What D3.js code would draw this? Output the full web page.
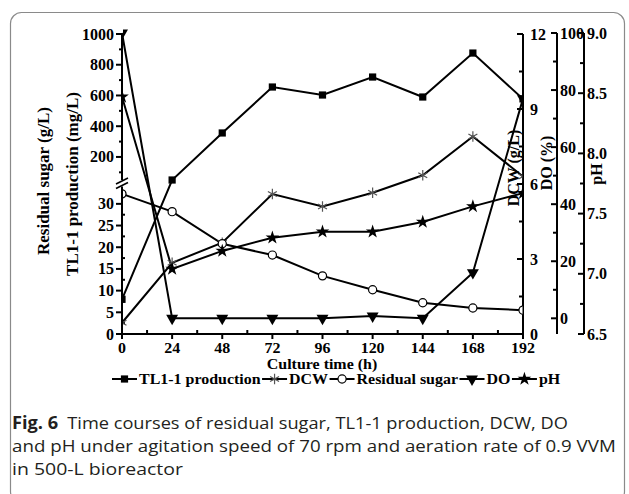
<!DOCTYPE html>
<html><head><meta charset="utf-8">
<script src="https://cdn.jsdelivr.net/npm/d3@7"></script>
<style>body{margin:0;background:#fff}svg{display:block}</style>
</head><body><svg id="c" width="629" height="494"></svg>
<script>
const time = [0, 24, 48, 72, 96, 120, 144, 168, 192];
const tl1 = [8, 50, 356, 655, 603, 720, 590, 876, 577];
const dcw = [0.45, 2.85, 3.65, 5.6, 5.1, 5.65, 6.35, 7.9, 6.3];
const sugar = [32.3, 28.2, 20.8, 18.2, 13.4, 10.2, 7.2, 6.0, 5.5];
const dO = [100, 0, 0, 0, 0, 0.8, 0, 16, 77];
const ph = [8.47, 7.04, 7.19, 7.30, 7.35, 7.35, 7.43, 7.56, 7.67];
const xTicks = [0, 24, 48, 72, 96, 120, 144, 168, 192];
const leftLowTicks = [0, 5, 10, 15, 20, 25, 30];
const leftUpTicks = [200, 400, 600, 800, 1000];
const dcwTicks = [0, 3, 6, 9, 12];
const doTicks = [0, 20, 40, 60, 80, 100];
const phTicks = ["6.5", "7.0", "7.5", "8.0", "8.5", "9.0"];
const legendNames = ["TL1-1 production", "DCW", "Residual sugar", "DO", "pH"];

const svg = d3.select("#c");
const FONT = "'Liberation Serif','Times New Roman',serif";
const FS = 16;
const SX = 1.14; // horizontal stretch of the original figure
const FSH = 14;  // font size of stretched horizontal texts

// frame
svg.append("rect").attr("x", 10.5).attr("y", 12.5).attr("width", 614).attr("height", 490)
  .attr("rx", 11).attr("fill", "none").attr("stroke", "#8a8a8a").attr("stroke-width", 1.2);

const x = d3.scaleLinear().domain([0, 192]).range([122, 523]);
const yL = d3.scaleLinear().domain([0, 34, 50, 1000]).range([334, 186.5, 180, 34]);
const yD = d3.scaleLinear().domain([0, 12]).range([334, 34]);
const yO = d3.scaleLinear().domain([-5.5, 100]).range([334, 33]);
const yP = d3.scaleLinear().domain([6.5, 9.0]).range([334, 33]);

const g = svg.append("g").attr("font-family", FONT).attr("font-weight", "bold").attr("font-size", FS);
const ax = g.append("g").attr("stroke", "#000").attr("stroke-width", 2).attr("fill", "none");

function hText(parent, px, py, txt, anchor) {
  const gg = parent.append("g").attr("transform", `translate(${px},${py}) scale(${SX},1)`);
  return gg.append("text").attr("font-size", FSH).attr("text-anchor", anchor || "start").text(txt);
}

// x axis
ax.append("line").attr("x1", x(0) - 1).attr("x2", x(192) + 1).attr("y1", 334).attr("y2", 334);
xTicks.forEach(t => ax.append("line").attr("x1", x(t)).attr("x2", x(t)).attr("y1", 334).attr("y2", 339));
d3.range(12, 192, 24).forEach(t => ax.append("line").attr("x1", x(t)).attr("x2", x(t)).attr("y1", 334).attr("y2", 330));
xTicks.forEach(t => hText(g, x(t), 353, t, "middle"));
hText(g, 322, 369, "Culture time (h)", "middle");

// left axis (broken)
ax.append("line").attr("x1", 122).attr("x2", 122).attr("y1", 335).attr("y2", yL(34));
ax.append("line").attr("x1", 122).attr("x2", 122).attr("y1", yL(50)).attr("y2", yL(1000));
leftLowTicks.forEach(t => ax.append("line").attr("x1", 116).attr("x2", 122).attr("y1", yL(t)).attr("y2", yL(t)));
d3.range(2.5, 34, 5).forEach(t => ax.append("line").attr("x1", 122).attr("x2", 125).attr("y1", yL(t)).attr("y2", yL(t)));
leftUpTicks.forEach(t => ax.append("line").attr("x1", 116).attr("x2", 122).attr("y1", yL(t)).attr("y2", yL(t)));
d3.range(100, 1000, 200).forEach(t => ax.append("line").attr("x1", 119).attr("x2", 122).attr("y1", yL(t)).attr("y2", yL(t)));
// break marks
[0, 4.5].forEach(dy => ax.append("line").attr("x1", 116).attr("x2", 128)
  .attr("y1", 184 + dy).attr("y2", 178 + dy).attr("stroke-width", 1.6));
g.selectAll(".ll").data(leftLowTicks.concat(leftUpTicks)).join("text")
  .attr("x", 114).attr("y", d => yL(d) + 5.5).attr("text-anchor", "end").text(d => d);
g.append("text").attr("transform", "translate(49,181) rotate(-90)").attr("text-anchor", "middle").attr("font-size", 17).text("Residual sugar (g/L)");
g.append("text").attr("transform", "translate(78,184) rotate(-90)").attr("text-anchor", "middle").attr("font-size", 17).text("TL1-1 production (mg/L)");

// right axes
function rightAxis(xp, scale, major, minor, lo, hi, lx) {
  ax.append("line").attr("x1", xp).attr("x2", xp).attr("y1", scale(lo)).attr("y2", scale(hi));
  major.forEach(t => ax.append("line").attr("x1", xp - 6).attr("x2", xp).attr("y1", scale(+t)).attr("y2", scale(+t)));
  minor.forEach(t => ax.append("line").attr("x1", xp - 4).attr("x2", xp).attr("y1", scale(t)).attr("y2", scale(t)));
  g.selectAll(null).data(major).join("text").attr("x", xp + lx).attr("y", d => scale(+d) + 5.5).text(d => d);
}
rightAxis(523, yD, dcwTicks, d3.range(1.5, 12, 3), 0, 12, 7);
rightAxis(557, yO, doTicks, d3.range(10, 100, 20), -5.5, 100, 3);
rightAxis(584, yP, phTicks, d3.range(6.75, 9, 0.5), 6.5, 9.0, 3);
g.append("text").attr("transform", "translate(519,168) rotate(-90)").attr("text-anchor", "middle").text("DCW (g/L)");
g.append("text").attr("transform", "translate(552,163) rotate(-90)").attr("text-anchor", "middle").text("DO (%)");
g.append("text").attr("transform", "translate(602,174) rotate(-90)").attr("text-anchor", "middle").text("pH");

// series
const series = [
  {name: legendNames[0], vals: tl1, y: yL, sym: d3.symbolSquare, size: 52, fill: "#000", stroke: "none"},
  {name: legendNames[1], vals: dcw, y: yD, sym: d3.symbolAsterisk, size: 75, fill: "none", stroke: "#555"},
  {name: legendNames[2], vals: sugar, y: yL, sym: d3.symbolCircle, size: 52, fill: "#fff", stroke: "#000"},
  {name: legendNames[3], vals: dO, y: yO, sym: d3.symbolTriangle, size: 62, fill: "#000", stroke: "none", rot: 180},
  {name: legendNames[4], vals: ph, y: yP, sym: d3.symbolStar, size: 58, fill: "#000", stroke: "none"},
];
svg.append("clipPath").attr("id", "pc").append("rect").attr("x", 123).attr("y", 0).attr("width", 399.5).attr("height", 333);
const plot = svg.append("g");
series.forEach(s => {
  const pts = time.map((t, i) => [x(t), s.y(s.vals[i])]);
  plot.append("path").attr("d", d3.line()(pts)).attr("fill", "none").attr("stroke", "#000").attr("stroke-width", 2);
});
function marker(gg, s, px, py) {
  gg.append("path").attr("d", d3.symbol().type(s.sym).size(s.size)())
    .attr("transform", `translate(${px},${py})` + (s.rot ? ` rotate(${s.rot})` : ""))
    .attr("fill", s.fill).attr("stroke", s.stroke).attr("stroke-width", 1.2);
}
const mk = svg.append("g").attr("clip-path", "url(#pc)");
series.forEach(s => time.forEach((t, i) => marker(mk, s, x(t), s.y(s.vals[i]))));

// legend
const lg = svg.append("g").attr("font-family", FONT).attr("font-weight", "bold");
let lx = 0; const items = [];
series.forEach(s => {
  const it = lg.append("g");
  it.append("line").attr("x1", 0).attr("x2", 25).attr("y1", 0).attr("y2", 0).attr("stroke", "#000").attr("stroke-width", 2);
  marker(it, s, 12.5, 0);
  const tx = hText(it, 27, 5, s.name, "start");
  const w = 27 + tx.node().getComputedTextLength() * SX;
  items.push([it, lx]); lx += w + 1.5;
});
const lStart = 112;
items.forEach(([it, o]) => it.attr("transform", `translate(${lStart + o},379)`));

// caption
const cap = svg.append("g").attr("font-family", "'Open Sans','Noto Sans',sans-serif").attr("fill", "#231f20").attr("font-size", 17);
const l1 = cap.append("text").attr("x", 0).attr("y", 0);
l1.append("tspan").attr("font-weight", "bold").text("Fig. 6");
l1.append("tspan").text("\u2002Time courses of residual sugar, TL1-1 production, DCW, DO");
const l2 = cap.append("text").text("and pH under agitation speed of 70 rpm and aeration rate of 0.9 VVM");
const l3 = cap.append("text").text("in 500-L bioreactor");
[[l1, 429, 556], [l2, 452, 604], [l3, 475, 171]].forEach(([t, yy, tw]) => {
  const w = t.node().getComputedTextLength();
  t.attr("transform", `translate(12,${yy}) scale(${tw / w},1)`);
});
</script></body></html>
